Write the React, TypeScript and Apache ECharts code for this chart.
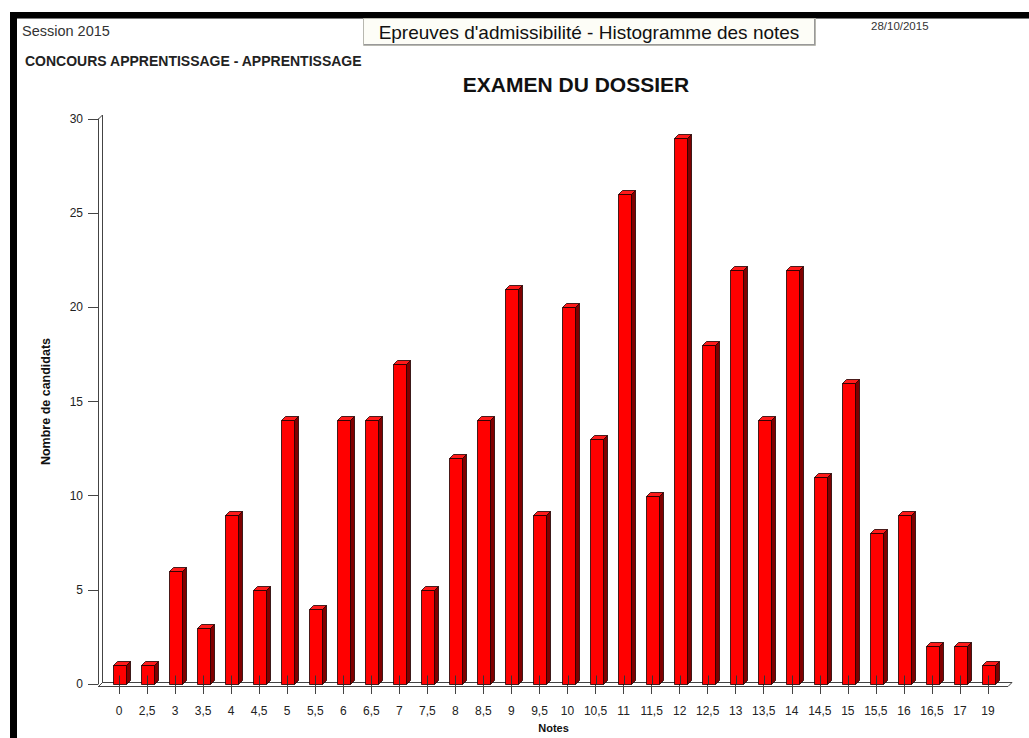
import React, { useEffect, useRef } from "react";
import * as echarts from "echarts";

const categories = ["0", "2,5", "3", "3,5", "4", "4,5", "5", "5,5", "6", "6,5", "7", "7,5", "8", "8,5", "9", "9,5", "10", "10,5", "11", "11,5", "12", "12,5", "13", "13,5", "14", "14,5", "15", "15,5", "16", "16,5", "17", "19"];
const counts = [1, 1, 6, 3, 9, 5, 14, 4, 14, 14, 17, 5, 12, 14, 21, 9, 20, 13, 26, 10, 29, 18, 22, 14, 22, 11, 16, 8, 9, 2, 2, 1];
const yTicks = { min: 0, max: 30, interval: 5 };

const FONT = "'Liberation Sans', Arial, sans-serif";
const GRID = { left: 105, top: 119, width: 897, height: 567 };
const AXIS_X = 98;
const DEPTH = 4;

export default function App() {
  const ref = useRef<HTMLDivElement>(null);

  useEffect(() => {
    const el = ref.current;
    if (!el) return;
    const chart = echarts.init(el, null, { renderer: "svg" });
    const bottom = GRID.top + GRID.height;
    const lineStyle = { stroke: "#444", lineWidth: 1 };

    const option: any = {
      animation: false,
      backgroundColor: "#ffffff",
      graphic: [
        // outer frame
        { type: "rect", shape: { x: 10, y: 12, width: 1019, height: 6 }, style: { fill: "#000" } },
        { type: "line", shape: { x1: 16, y1: 18.5, x2: 1029, y2: 18.5 }, style: { stroke: "#777", lineWidth: 1 } },
        { type: "rect", shape: { x: 10, y: 12, width: 7, height: 726 }, style: { fill: "#000" } },
        // header box
        { type: "rect", shape: { x: 363.5, y: 18.5, width: 452, height: 27 }, style: { fill: "#fdfdf7", stroke: "#b8b8b0", lineWidth: 1 } },
        { type: "line", shape: { x1: 364, y1: 44.5, x2: 815, y2: 44.5 }, style: { stroke: "#999", lineWidth: 1 } },
        { type: "line", shape: { x1: 814.5, y1: 19, x2: 814.5, y2: 45 }, style: { stroke: "#999", lineWidth: 1 } },
        {
          type: "text", x: 589, y: 32,
          style: { text: "Epreuves d'admissibilité - Histogramme des notes", font: `19px ${FONT}`, fill: "#111", align: "center", verticalAlign: "middle" },
        },
        { type: "text", x: 22, y: 31, style: { text: "Session 2015", font: `14.5px ${FONT}`, fill: "#333", verticalAlign: "middle" } },
        { type: "text", x: 871, y: 26, style: { text: "28/10/2015", font: `11.5px ${FONT}`, fill: "#333", verticalAlign: "middle" } },
        { type: "text", x: 25, y: 61, style: { text: "CONCOURS APPRENTISSAGE - APPRENTISSAGE", font: `bold 14px ${FONT}`, fill: "#222", verticalAlign: "middle" } },
        {
          type: "text", x: 576, y: 84,
          style: { text: "EXAMEN DU DOSSIER", font: `bold 21px ${FONT}`, fill: "#111", align: "center", verticalAlign: "middle" },
        },
        // 3D walls
        { type: "line", shape: { x1: AXIS_X + DEPTH + 0.5, y1: GRID.top - DEPTH, x2: AXIS_X + DEPTH + 0.5, y2: bottom - DEPTH }, style: lineStyle },
        { type: "line", shape: { x1: AXIS_X + 0.5, y1: GRID.top, x2: AXIS_X + DEPTH + 0.5, y2: GRID.top - DEPTH }, style: lineStyle },
        { type: "line", shape: { x1: AXIS_X, y1: bottom + 0.5, x2: 1008, y2: bottom + 0.5 }, style: lineStyle },
        { type: "line", shape: { x1: AXIS_X + DEPTH, y1: bottom - DEPTH + 0.5, x2: 1008 + DEPTH, y2: bottom - DEPTH + 0.5 }, style: lineStyle },
        { type: "line", shape: { x1: AXIS_X + 0.5, y1: bottom + 0.5, x2: AXIS_X + DEPTH + 0.5, y2: bottom - DEPTH + 0.5 }, style: lineStyle },
        { type: "line", shape: { x1: 1008, y1: bottom + 0.5, x2: 1008 + DEPTH, y2: bottom - DEPTH + 0.5 }, style: lineStyle },
      ],
      grid: { ...GRID, containLabel: false },
      xAxis: {
        type: "category",
        data: categories,
        axisLine: { show: false },
        axisTick: { show: true, alignWithLabel: true, length: 10, lineStyle: { color: "#444" } },
        axisLabel: { fontFamily: FONT, fontSize: 12, color: "#222", margin: 21, interval: 0 },
        name: "Notes",
        nameLocation: "middle",
        nameGap: 38,
        nameTextStyle: { fontFamily: FONT, fontSize: 11, fontWeight: "bold", color: "#111" },
        splitLine: { show: false },
      },
      yAxis: {
        type: "value",
        min: yTicks.min,
        max: yTicks.max,
        interval: yTicks.interval,
        offset: GRID.left - AXIS_X,
        axisLine: { show: true, lineStyle: { color: "#444" } },
        axisTick: { show: true, length: 10, lineStyle: { color: "#444" } },
        axisLabel: { fontFamily: FONT, fontSize: 12, color: "#222", margin: 15 },
        splitLine: { show: false },
        name: "Nombre de candidats",
        nameLocation: "middle",
        nameGap: 46,
        nameRotate: 90,
        nameTextStyle: { fontFamily: FONT, fontSize: 12.5, fontWeight: "bold", color: "#111" },
      },
      series: [
        {
          type: "custom",
          data: counts.map((v, i) => [i, v]),
          encode: { x: 0, y: 1 },
          renderItem: (params: any, api: any) => {
            const idx = api.value(0);
            const val = api.value(1);
            const top = api.coord([idx, val]);
            const base = api.coord([idx, 0]);
            const cx = Math.round(top[0]) + 0.5;
            const w = 13;
            const x0 = cx - 6;
            const x1 = x0 + w;
            const yt = Math.round(top[1]) + 0.5;
            const yb = Math.round(base[1]) + 0.5;
            const d = DEPTH;
            const stroke = { stroke: "#1a0000", lineWidth: 0.8 };
            return {
              type: "group",
              children: [
                {
                  type: "polygon",
                  shape: { points: [[x1, yt], [x1 + d, yt - d], [x1 + d, yb - d], [x1, yb]] },
                  style: { fill: "#800000", ...stroke },
                },
                {
                  type: "polygon",
                  shape: { points: [[x0, yt], [x0 + d, yt - d], [x1 + d, yt - d], [x1, yt]] },
                  style: { fill: "#ff1a1a", ...stroke },
                },
                {
                  type: "rect",
                  shape: { x: x0, y: yt, width: w, height: yb - yt },
                  style: { fill: "#ff0000", ...stroke },
                },
                {
                  type: "line",
                  shape: { x1: cx, y1: yb - 9, x2: cx, y2: yb },
                  style: { stroke: "#333", lineWidth: 1 },
                },
              ],
            };
          },
        },
      ],
    };

    chart.setOption(option);
    return () => chart.dispose();
  }, []);

  return (
    <div
      ref={ref}
      style={{ position: "fixed", left: 0, top: 0, width: 1029, height: 738, background: "#fff" }}
    />
  );
}
